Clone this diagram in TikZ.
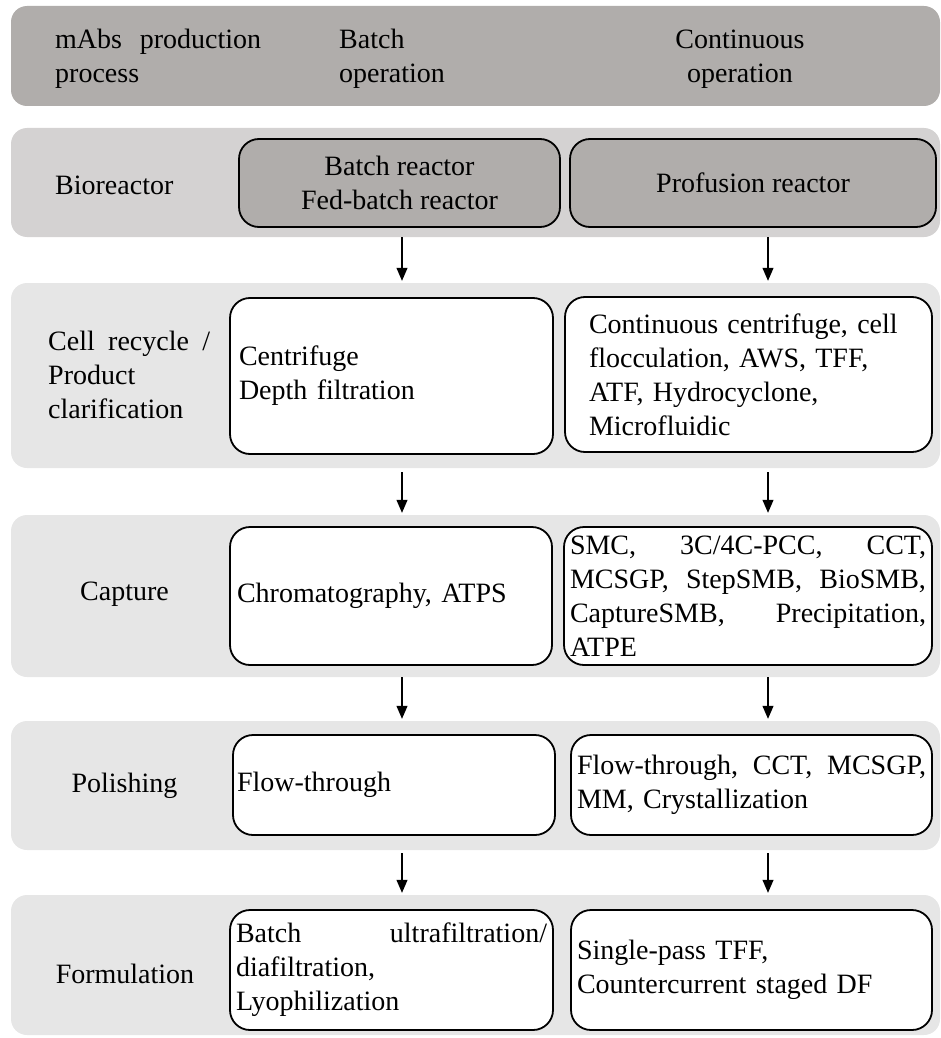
\documentclass[tikz,border=0pt]{standalone}
\usepackage{fontspec}
\setmainfont{Liberation Serif}
\usetikzlibrary{arrows.meta}
\newcommand\myfs{\fontsize{28}{34}\selectfont}
\definecolor{hdrgray}{RGB}{176,173,171}
\definecolor{biogray}{RGB}{212,210,210}
\definecolor{bandgray}{RGB}{230,230,230}
\tikzset{
  band/.style={rectangle, rounded corners=16pt, draw=none, inner sep=0pt},
  box/.style={rectangle, rounded corners=20pt, draw=black, line width=1.8pt, fill=white,
              inner ysep=0pt, font=\myfs},
  lbl/.style={font=\myfs, inner sep=0pt},
  arr/.style={line width=1.1pt, -{Triangle[length=13pt,width=11pt]}, shorten >=2pt}
}
\begin{document}
\begin{tikzpicture}[x=1pt, y=-1pt]
\useasboundingbox (0,0) rectangle (940,1038);
% bands
\node[band, fill=hdrgray, minimum width=929pt, minimum height=100pt] (hdr) at (475.5,56) {};
\node[band, fill=biogray, minimum width=929pt, minimum height=109pt] (band1) at (475.5,182.5) {};
\node[band, fill=bandgray, minimum width=929pt, minimum height=185pt] (band2) at (475.5,375.5) {};
\node[band, fill=bandgray, minimum width=929pt, minimum height=162pt] (band3) at (475.5,596) {};
\node[band, fill=bandgray, minimum width=929pt, minimum height=129pt] (band4) at (475.5,785.5) {};
\node[band, fill=bandgray, minimum width=929pt, minimum height=140pt] (band5) at (475.5,965) {};
% header texts
\node[lbl, anchor=west, text width=206pt, align=left] (h1) at (55,59) {mAbs\hfill production\\process};
\node[lbl, anchor=west, text width=150pt, align=left] (h2) at (339,59) {Batch\\operation};
\node[lbl, align=center] (h3) at (740,59) {Continuous\\operation};
% left labels
\node[lbl, anchor=west] (l1) at (55,185) {Bioreactor};
\node[lbl, anchor=west, text width=162pt, align=left] (l2) at (48,375) {Cell\hfill recycle\hfill /\\Product\\clarification};
\node[lbl] (l3) at (124.5,594) {Capture};
\node[lbl] (l4) at (124.5,786) {Polishing};
\node[lbl] (l5) at (125,974) {Formulation};
% bioreactor boxes
\node[box, fill=hdrgray, minimum width=321pt, minimum height=88pt, align=center] (bioB) at (399.5,183) {Batch reactor\\Fed-batch reactor};
\node[box, fill=hdrgray, minimum width=366pt, minimum height=88pt, align=center] (bioC) at (753,183) {Profusion reactor};
% clarification
\node[box, minimum width=323pt, minimum height=156pt, inner xsep=9pt, text width=305pt, align=left] (clarB) at (391.5,376) {Centrifuge\\Depth filtration};
\node[box, minimum width=367pt, minimum height=155pt, inner xsep=24pt, text width=319pt, align=left] (clarC) at (748.5,374.5) {Continuous centrifuge, cell\\flocculation, AWS, TFF,\\ATF, Hydrocyclone,\\Microfluidic};
% capture
\node[box, minimum width=322pt, minimum height=138pt, inner xsep=7pt, text width=308pt, align=left] (capB) at (391,596) {Chromatography, ATPS};
\node[box, minimum width=368pt, minimum height=138pt, inner xsep=6pt, text width=356pt, align=left] (capC) at (748,596) {SMC,\hfill 3C/4C-PCC,\hfill CCT,\\MCSGP,\hfill StepSMB,\hfill BioSMB,\\CaptureSMB,\hfill Precipitation,\\ATPE};
% polishing
\node[box, minimum width=322pt, minimum height=100pt, inner xsep=4pt, text width=314pt, align=left] (polB) at (394,785) {Flow-through};
\node[box, minimum width=361pt, minimum height=100pt, inner xsep=6pt, text width=349pt, align=left] (polC) at (751.5,785) {Flow-through,\hfill CCT,\hfill MCSGP,\\MM, Crystallization};
% formulation
\node[box, minimum width=323pt, minimum height=120pt, inner xsep=6pt, text width=311pt, align=left] (forB) at (391.5,970) {Batch\hfill ultrafiltration/\\diafiltration,\\Lyophilization};
\node[box, minimum width=361pt, minimum height=120pt, inner xsep=6pt, text width=349pt, align=left] (forC) at (751.5,970) {Single-pass TFF,\\Countercurrent staged DF};
% arrow columns
\coordinate (colB) at (402,0);
\coordinate (colC) at (768,0);
\draw[arr] (band1.south -| colB) -- (band2.north -| colB);
\draw[arr] (band1.south -| colC) -- (band2.north -| colC);
\draw[arr] ([yshift=-4pt]band2.south -| colB) -- (band3.north -| colB);
\draw[arr] ([yshift=-4pt]band2.south -| colC) -- (band3.north -| colC);
\draw[arr] (band3.south -| colB) -- (band4.north -| colB);
\draw[arr] (band3.south -| colC) -- (band4.north -| colC);
\draw[arr] ([yshift=-3pt]band4.south -| colB) -- (band5.north -| colB);
\draw[arr] ([yshift=-3pt]band4.south -| colC) -- (band5.north -| colC);
\end{tikzpicture}
\end{document}
